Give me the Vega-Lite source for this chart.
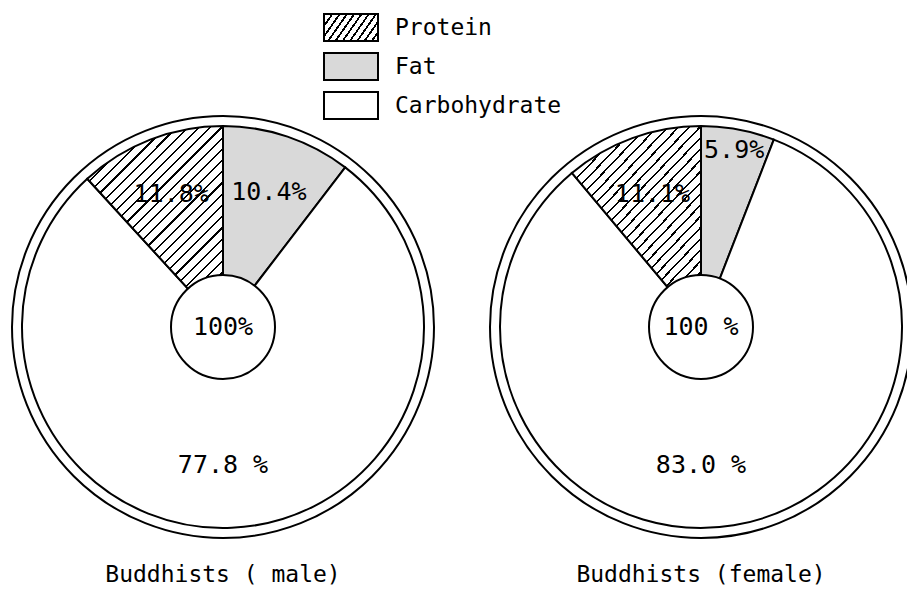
{
  "$schema": "https://vega.github.io/schema/vega-lite/v6.json",
  "width": 907,
  "height": 534,
  "autosize": {"type": "none"},
  "padding": {"top": 60, "left": 0, "right": 0, "bottom": 0},
  "background": "white",
  "config": {"view": {"stroke": null}, "font": "DejaVu Sans Mono", "text": {"font": "DejaVu Sans Mono", "color": "black"}},
  "data": {
    "values": [
      {"group": "male", "title": "Buddhists ( male)", "center": "100%", "nutrient": "Fat", "pct": 10.4, "label": "10.4%", "seq": 1},
      {"group": "male", "title": "Buddhists ( male)", "center": "100%", "nutrient": "Carbohydrate", "pct": 77.8, "label": "77.8 %", "seq": 2},
      {"group": "male", "title": "Buddhists ( male)", "center": "100%", "nutrient": "Protein", "pct": 11.8, "label": "11.8%", "seq": 3},
      {"group": "female", "title": "Buddhists (female)", "center": "100 %", "nutrient": "Fat", "pct": 5.9, "label": "5.9%", "seq": 1},
      {"group": "female", "title": "Buddhists (female)", "center": "100 %", "nutrient": "Carbohydrate", "pct": 83.0, "label": "83.0 %", "seq": 2},
      {"group": "female", "title": "Buddhists (female)", "center": "100 %", "nutrient": "Protein", "pct": 11.1, "label": "11.1%", "seq": 3}
    ]
  },
  "encoding": {
    "x": {"field": "group", "type": "nominal", "scale": {"type": "point", "domain": ["male", "female"], "range": [223, 701], "padding": 0}, "axis": null}
  },
  "layer": [
    {
      "mark": {"type": "arc", "radius": 201, "stroke": "black", "strokeWidth": 2},
      "transform": [{"filter": "datum.group==='male'"}],
      "encoding": {
        "theta": {"field": "pct", "type": "quantitative", "stack": true, "scale": {"domain": [0, 100]}},
        "order": {"field": "seq", "type": "quantitative"},
        "fill": {
          "condition": [
            {"test": "datum.nutrient==='Protein'", "value": {"gradient": "linear", "x1": 0, "y1": 0, "x2": 0.778, "y2": 1.15, "stops": [
                {"offset": 0, "color": "#000"}, {"offset": 0.0067, "color": "#000"}, {"offset": 0.0067, "color": "#fff"}, {"offset": 0.0333, "color": "#fff"},
                {"offset": 0.0333, "color": "#000"}, {"offset": 0.04, "color": "#000"}, {"offset": 0.04, "color": "#fff"}, {"offset": 0.0667, "color": "#fff"},
                {"offset": 0.0667, "color": "#000"}, {"offset": 0.0733, "color": "#000"}, {"offset": 0.0733, "color": "#fff"}, {"offset": 0.1, "color": "#fff"},
                {"offset": 0.1, "color": "#000"}, {"offset": 0.1067, "color": "#000"}, {"offset": 0.1067, "color": "#fff"}, {"offset": 0.1333, "color": "#fff"},
                {"offset": 0.1333, "color": "#000"}, {"offset": 0.14, "color": "#000"}, {"offset": 0.14, "color": "#fff"}, {"offset": 0.1667, "color": "#fff"},
                {"offset": 0.1667, "color": "#000"}, {"offset": 0.1733, "color": "#000"}, {"offset": 0.1733, "color": "#fff"}, {"offset": 0.2, "color": "#fff"},
                {"offset": 0.2, "color": "#000"}, {"offset": 0.2067, "color": "#000"}, {"offset": 0.2067, "color": "#fff"}, {"offset": 0.2333, "color": "#fff"},
                {"offset": 0.2333, "color": "#000"}, {"offset": 0.24, "color": "#000"}, {"offset": 0.24, "color": "#fff"}, {"offset": 0.2667, "color": "#fff"},
                {"offset": 0.2667, "color": "#000"}, {"offset": 0.2733, "color": "#000"}, {"offset": 0.2733, "color": "#fff"}, {"offset": 0.3, "color": "#fff"},
                {"offset": 0.3, "color": "#000"}, {"offset": 0.3067, "color": "#000"}, {"offset": 0.3067, "color": "#fff"}, {"offset": 0.3333, "color": "#fff"},
                {"offset": 0.3333, "color": "#000"}, {"offset": 0.34, "color": "#000"}, {"offset": 0.34, "color": "#fff"}, {"offset": 0.3667, "color": "#fff"},
                {"offset": 0.3667, "color": "#000"}, {"offset": 0.3733, "color": "#000"}, {"offset": 0.3733, "color": "#fff"}, {"offset": 0.4, "color": "#fff"},
                {"offset": 0.4, "color": "#000"}, {"offset": 0.4067, "color": "#000"}, {"offset": 0.4067, "color": "#fff"}, {"offset": 0.4333, "color": "#fff"},
                {"offset": 0.4333, "color": "#000"}, {"offset": 0.44, "color": "#000"}, {"offset": 0.44, "color": "#fff"}, {"offset": 0.4667, "color": "#fff"},
                {"offset": 0.4667, "color": "#000"}, {"offset": 0.4733, "color": "#000"}, {"offset": 0.4733, "color": "#fff"}, {"offset": 0.5, "color": "#fff"},
                {"offset": 0.5, "color": "#000"}, {"offset": 0.5067, "color": "#000"}, {"offset": 0.5067, "color": "#fff"}, {"offset": 0.5333, "color": "#fff"},
                {"offset": 0.5333, "color": "#000"}, {"offset": 0.54, "color": "#000"}, {"offset": 0.54, "color": "#fff"}, {"offset": 0.5667, "color": "#fff"},
                {"offset": 0.5667, "color": "#000"}, {"offset": 0.5733, "color": "#000"}, {"offset": 0.5733, "color": "#fff"}, {"offset": 0.6, "color": "#fff"},
                {"offset": 0.6, "color": "#000"}, {"offset": 0.6067, "color": "#000"}, {"offset": 0.6067, "color": "#fff"}, {"offset": 0.6333, "color": "#fff"},
                {"offset": 0.6333, "color": "#000"}, {"offset": 0.64, "color": "#000"}, {"offset": 0.64, "color": "#fff"}, {"offset": 0.6667, "color": "#fff"},
                {"offset": 0.6667, "color": "#000"}, {"offset": 0.6733, "color": "#000"}, {"offset": 0.6733, "color": "#fff"}, {"offset": 0.7, "color": "#fff"},
                {"offset": 0.7, "color": "#000"}, {"offset": 0.7067, "color": "#000"}, {"offset": 0.7067, "color": "#fff"}, {"offset": 0.7333, "color": "#fff"},
                {"offset": 0.7333, "color": "#000"}, {"offset": 0.74, "color": "#000"}, {"offset": 0.74, "color": "#fff"}, {"offset": 0.7667, "color": "#fff"},
                {"offset": 0.7667, "color": "#000"}, {"offset": 0.7733, "color": "#000"}, {"offset": 0.7733, "color": "#fff"}, {"offset": 0.8, "color": "#fff"},
                {"offset": 0.8, "color": "#000"}, {"offset": 0.8067, "color": "#000"}, {"offset": 0.8067, "color": "#fff"}, {"offset": 0.8333, "color": "#fff"},
                {"offset": 0.8333, "color": "#000"}, {"offset": 0.84, "color": "#000"}, {"offset": 0.84, "color": "#fff"}, {"offset": 0.8667, "color": "#fff"},
                {"offset": 0.8667, "color": "#000"}, {"offset": 0.8733, "color": "#000"}, {"offset": 0.8733, "color": "#fff"}, {"offset": 0.9, "color": "#fff"},
                {"offset": 0.9, "color": "#000"}, {"offset": 0.9067, "color": "#000"}, {"offset": 0.9067, "color": "#fff"}, {"offset": 0.9333, "color": "#fff"},
                {"offset": 0.9333, "color": "#000"}, {"offset": 0.94, "color": "#000"}, {"offset": 0.94, "color": "#fff"}, {"offset": 0.9667, "color": "#fff"},
                {"offset": 0.9667, "color": "#000"}, {"offset": 0.9733, "color": "#000"}, {"offset": 0.9733, "color": "#fff"}, {"offset": 1, "color": "#fff"}
              ]}},
            {"test": "datum.nutrient==='Fat'", "value": "#d9d9d9"}
          ],
          "value": "#ffffff"
        }
      }
    },
    {
      "mark": {"type": "arc", "radius": 201, "stroke": "black", "strokeWidth": 2},
      "transform": [{"filter": "datum.group==='female'"}],
      "encoding": {
        "theta": {"field": "pct", "type": "quantitative", "stack": true, "scale": {"domain": [0, 100]}},
        "order": {"field": "seq", "type": "quantitative"},
        "fill": {
          "condition": [
            {"test": "datum.nutrient==='Protein'", "value": {"gradient": "linear", "x1": 0, "y1": 0, "x2": 0.778, "y2": 1.15, "stops": [
                {"offset": 0, "color": "#000"}, {"offset": 0.0067, "color": "#000"}, {"offset": 0.0067, "color": "#fff"}, {"offset": 0.0333, "color": "#fff"},
                {"offset": 0.0333, "color": "#000"}, {"offset": 0.04, "color": "#000"}, {"offset": 0.04, "color": "#fff"}, {"offset": 0.0667, "color": "#fff"},
                {"offset": 0.0667, "color": "#000"}, {"offset": 0.0733, "color": "#000"}, {"offset": 0.0733, "color": "#fff"}, {"offset": 0.1, "color": "#fff"},
                {"offset": 0.1, "color": "#000"}, {"offset": 0.1067, "color": "#000"}, {"offset": 0.1067, "color": "#fff"}, {"offset": 0.1333, "color": "#fff"},
                {"offset": 0.1333, "color": "#000"}, {"offset": 0.14, "color": "#000"}, {"offset": 0.14, "color": "#fff"}, {"offset": 0.1667, "color": "#fff"},
                {"offset": 0.1667, "color": "#000"}, {"offset": 0.1733, "color": "#000"}, {"offset": 0.1733, "color": "#fff"}, {"offset": 0.2, "color": "#fff"},
                {"offset": 0.2, "color": "#000"}, {"offset": 0.2067, "color": "#000"}, {"offset": 0.2067, "color": "#fff"}, {"offset": 0.2333, "color": "#fff"},
                {"offset": 0.2333, "color": "#000"}, {"offset": 0.24, "color": "#000"}, {"offset": 0.24, "color": "#fff"}, {"offset": 0.2667, "color": "#fff"},
                {"offset": 0.2667, "color": "#000"}, {"offset": 0.2733, "color": "#000"}, {"offset": 0.2733, "color": "#fff"}, {"offset": 0.3, "color": "#fff"},
                {"offset": 0.3, "color": "#000"}, {"offset": 0.3067, "color": "#000"}, {"offset": 0.3067, "color": "#fff"}, {"offset": 0.3333, "color": "#fff"},
                {"offset": 0.3333, "color": "#000"}, {"offset": 0.34, "color": "#000"}, {"offset": 0.34, "color": "#fff"}, {"offset": 0.3667, "color": "#fff"},
                {"offset": 0.3667, "color": "#000"}, {"offset": 0.3733, "color": "#000"}, {"offset": 0.3733, "color": "#fff"}, {"offset": 0.4, "color": "#fff"},
                {"offset": 0.4, "color": "#000"}, {"offset": 0.4067, "color": "#000"}, {"offset": 0.4067, "color": "#fff"}, {"offset": 0.4333, "color": "#fff"},
                {"offset": 0.4333, "color": "#000"}, {"offset": 0.44, "color": "#000"}, {"offset": 0.44, "color": "#fff"}, {"offset": 0.4667, "color": "#fff"},
                {"offset": 0.4667, "color": "#000"}, {"offset": 0.4733, "color": "#000"}, {"offset": 0.4733, "color": "#fff"}, {"offset": 0.5, "color": "#fff"},
                {"offset": 0.5, "color": "#000"}, {"offset": 0.5067, "color": "#000"}, {"offset": 0.5067, "color": "#fff"}, {"offset": 0.5333, "color": "#fff"},
                {"offset": 0.5333, "color": "#000"}, {"offset": 0.54, "color": "#000"}, {"offset": 0.54, "color": "#fff"}, {"offset": 0.5667, "color": "#fff"},
                {"offset": 0.5667, "color": "#000"}, {"offset": 0.5733, "color": "#000"}, {"offset": 0.5733, "color": "#fff"}, {"offset": 0.6, "color": "#fff"},
                {"offset": 0.6, "color": "#000"}, {"offset": 0.6067, "color": "#000"}, {"offset": 0.6067, "color": "#fff"}, {"offset": 0.6333, "color": "#fff"},
                {"offset": 0.6333, "color": "#000"}, {"offset": 0.64, "color": "#000"}, {"offset": 0.64, "color": "#fff"}, {"offset": 0.6667, "color": "#fff"},
                {"offset": 0.6667, "color": "#000"}, {"offset": 0.6733, "color": "#000"}, {"offset": 0.6733, "color": "#fff"}, {"offset": 0.7, "color": "#fff"},
                {"offset": 0.7, "color": "#000"}, {"offset": 0.7067, "color": "#000"}, {"offset": 0.7067, "color": "#fff"}, {"offset": 0.7333, "color": "#fff"},
                {"offset": 0.7333, "color": "#000"}, {"offset": 0.74, "color": "#000"}, {"offset": 0.74, "color": "#fff"}, {"offset": 0.7667, "color": "#fff"},
                {"offset": 0.7667, "color": "#000"}, {"offset": 0.7733, "color": "#000"}, {"offset": 0.7733, "color": "#fff"}, {"offset": 0.8, "color": "#fff"},
                {"offset": 0.8, "color": "#000"}, {"offset": 0.8067, "color": "#000"}, {"offset": 0.8067, "color": "#fff"}, {"offset": 0.8333, "color": "#fff"},
                {"offset": 0.8333, "color": "#000"}, {"offset": 0.84, "color": "#000"}, {"offset": 0.84, "color": "#fff"}, {"offset": 0.8667, "color": "#fff"},
                {"offset": 0.8667, "color": "#000"}, {"offset": 0.8733, "color": "#000"}, {"offset": 0.8733, "color": "#fff"}, {"offset": 0.9, "color": "#fff"},
                {"offset": 0.9, "color": "#000"}, {"offset": 0.9067, "color": "#000"}, {"offset": 0.9067, "color": "#fff"}, {"offset": 0.9333, "color": "#fff"},
                {"offset": 0.9333, "color": "#000"}, {"offset": 0.94, "color": "#000"}, {"offset": 0.94, "color": "#fff"}, {"offset": 0.9667, "color": "#fff"},
                {"offset": 0.9667, "color": "#000"}, {"offset": 0.9733, "color": "#000"}, {"offset": 0.9733, "color": "#fff"}, {"offset": 1, "color": "#fff"}
              ]}},
            {"test": "datum.nutrient==='Fat'", "value": "#d9d9d9"}
          ],
          "value": "#ffffff"
        }
      }
    },
    {
      "transform": [{"filter": "datum.group==='male'"}],
      "mark": {"type": "point", "shape": "M-2,-1L2,-1L2,1L-2,1Z", "size": 729, "filled": true, "stroke": "black", "strokeWidth": 2, "opacity": 1, "fillOpacity": 1, "strokeOpacity": 1, "xOffset": 128},
      "encoding": {
        "y": {"field": "nutrient", "type": "nominal", "scale": {"type": "point", "domain": ["Protein", "Fat", "Carbohydrate"], "range": [-32.5, 45.5], "padding": 0}, "axis": null},
        "fill": {
          "condition": [
            {"test": "datum.nutrient==='Protein'", "value": {"gradient": "linear", "x1": 0, "y1": 0, "x2": 1.203, "y2": 0.421, "stops": [
              {"offset": 0, "color": "#000"}, {"offset": 0.03, "color": "#000"}, {"offset": 0.03, "color": "#fff"}, {"offset": 0.1, "color": "#fff"},
              {"offset": 0.1, "color": "#000"}, {"offset": 0.13, "color": "#000"}, {"offset": 0.13, "color": "#fff"}, {"offset": 0.2, "color": "#fff"},
              {"offset": 0.2, "color": "#000"}, {"offset": 0.23, "color": "#000"}, {"offset": 0.23, "color": "#fff"}, {"offset": 0.3, "color": "#fff"},
              {"offset": 0.3, "color": "#000"}, {"offset": 0.33, "color": "#000"}, {"offset": 0.33, "color": "#fff"}, {"offset": 0.4, "color": "#fff"},
              {"offset": 0.4, "color": "#000"}, {"offset": 0.43, "color": "#000"}, {"offset": 0.43, "color": "#fff"}, {"offset": 0.5, "color": "#fff"},
              {"offset": 0.5, "color": "#000"}, {"offset": 0.53, "color": "#000"}, {"offset": 0.53, "color": "#fff"}, {"offset": 0.6, "color": "#fff"},
              {"offset": 0.6, "color": "#000"}, {"offset": 0.63, "color": "#000"}, {"offset": 0.63, "color": "#fff"}, {"offset": 0.7, "color": "#fff"},
              {"offset": 0.7, "color": "#000"}, {"offset": 0.73, "color": "#000"}, {"offset": 0.73, "color": "#fff"}, {"offset": 0.8, "color": "#fff"},
              {"offset": 0.8, "color": "#000"}, {"offset": 0.83, "color": "#000"}, {"offset": 0.83, "color": "#fff"}, {"offset": 0.9, "color": "#fff"},
              {"offset": 0.9, "color": "#000"}, {"offset": 0.93, "color": "#000"}, {"offset": 0.93, "color": "#fff"}, {"offset": 1, "color": "#fff"}
            ]}},
            {"test": "datum.nutrient==='Fat'", "value": "#d9d9d9"}
          ],
          "value": "#ffffff"
        }
      }
    },
    {
      "transform": [{"filter": "datum.group==='male'"}],
      "mark": {"type": "text", "fontSize": 23, "align": "left", "baseline": "middle", "dx": 172},
      "encoding": {
        "y": {"field": "nutrient", "type": "nominal", "scale": {"type": "point", "domain": ["Protein", "Fat", "Carbohydrate"], "range": [-32.5, 45.5], "padding": 0}, "axis": null},
        "text": {"field": "nutrient", "type": "nominal"}
      }
    },
    {
      "transform": [{"filter": "datum.nutrient==='Carbohydrate'"}],
      "mark": {"type": "point", "shape": "circle", "size": 178084, "filled": false, "stroke": "black", "strokeWidth": 2, "opacity": 1}
    },
    {
      "transform": [{"filter": "datum.nutrient==='Carbohydrate'"}],
      "mark": {"type": "point", "shape": "circle", "size": 10816, "filled": true, "fill": "white", "stroke": "black", "strokeWidth": 2, "opacity": 1, "fillOpacity": 1, "strokeOpacity": 1}
    },
    {
      "transform": [{"filter": "datum.group==='male'"}],
      "mark": {"type": "text", "radius": 143, "fontSize": 25},
      "encoding": {
        "theta": {"field": "pct", "type": "quantitative", "stack": true, "scale": {"domain": [0, 100]}},
        "order": {"field": "seq", "type": "quantitative"},
        "text": {"condition": {"test": "datum.nutrient==='Carbohydrate'", "value": ""}, "field": "label", "type": "nominal"}
      }
    },
    {
      "transform": [{"filter": "datum.group==='female'"}],
      "mark": {"type": "text", "radius": 142, "fontSize": 25},
      "encoding": {
        "theta": {"field": "pct", "type": "quantitative", "stack": true, "scale": {"domain": [0, 100]}},
        "order": {"field": "seq", "type": "quantitative"},
        "text": {"condition": {"test": "datum.nutrient!=='Protein'", "value": ""}, "field": "label", "type": "nominal"}
      }
    },
    {
      "transform": [{"filter": "datum.group==='female'"}],
      "mark": {"type": "text", "radius": 180, "fontSize": 25},
      "encoding": {
        "theta": {"field": "pct", "type": "quantitative", "stack": true, "scale": {"domain": [0, 100]}},
        "order": {"field": "seq", "type": "quantitative"},
        "text": {"condition": {"test": "datum.nutrient!=='Fat'", "value": ""}, "field": "label", "type": "nominal"}
      }
    },
    {
      "transform": [{"filter": "datum.nutrient==='Carbohydrate'"}],
      "mark": {"type": "text", "fontSize": 25},
      "encoding": {"text": {"field": "center", "type": "nominal"}}
    },
    {
      "transform": [{"filter": "datum.nutrient==='Carbohydrate'"}],
      "mark": {"type": "text", "fontSize": 25, "dy": 138},
      "encoding": {"text": {"field": "label", "type": "nominal"}}
    },
    {
      "transform": [{"filter": "datum.nutrient==='Carbohydrate'"}],
      "mark": {"type": "text", "fontSize": 23, "dy": 248},
      "encoding": {"text": {"field": "title", "type": "nominal"}}
    }
  ]
}
